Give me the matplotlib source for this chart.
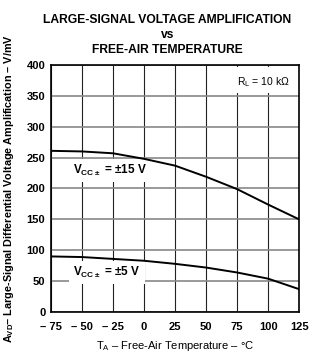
import numpy as np
import matplotlib
matplotlib.use("Agg")
import matplotlib.pyplot as plt
from matplotlib.patches import Rectangle

plt.rcParams['font.family'] = ['Liberation Sans', 'DejaVu Sans']
plt.rcParams['mathtext.fontset'] = 'custom'
plt.rcParams['mathtext.rm'] = 'Liberation Sans'
plt.rcParams['mathtext.bf'] = 'Liberation Sans:bold'

# Данные
temp = [-75, -50, -25, 0, 25, 50, 75, 100, 125]
avd_15v = [261, 260, 257, 248, 237, 219, 199, 174, 150]
avd_5v = [90, 89, 86, 83, 78, 72, 64, 54, 37]

xticks = [-75, -50, -25, 0, 25, 50, 75, 100, 125]
xtick_labels = ['– 75', '– 50', '– 25', '0', '25', '50', '75', '100', '125']
yticks = [0, 50, 100, 150, 200, 250, 300, 350, 400]

fig = plt.figure(figsize=(3.35, 3.57), dpi=100)
ax = fig.add_axes([0.152, 0.126, 0.741, 0.692])

ax.set_axisbelow(True)
ax.set_xlim(-75, 125)
ax.set_ylim(0, 400)
ax.set_xticks(xticks)
ax.set_xticklabels(xtick_labels, fontweight='bold', fontsize=8)
ax.set_yticks(yticks)
ax.set_yticklabels([str(v) for v in yticks], fontweight='bold', fontsize=8)
ax.tick_params(axis='x', length=0, pad=7)
ax.tick_params(axis='y', length=0, pad=4)
ax.xaxis.grid(True, color='#222222', lw=0.8)
ax.yaxis.grid(True, color='#888888', lw=1.2)
for s in ax.spines.values():
    s.set_linewidth(1.2)

# белая подложка под R_L
ax.add_patch(Rectangle((52, 354), 72.5, 42, facecolor='white', edgecolor='none', zorder=1))

box = dict(facecolor='white', edgecolor='none', pad=3)
ax.text(-57, 229, r'V$_\mathregular{CC\pm}$ = ±15 V', fontsize=8.5, fontweight='bold',
        va='center', ha='left', bbox=box, zorder=3)
ax.text(-57, 64, r'V$_\mathregular{CC\pm}$ = ±5 V', fontsize=8.5, fontweight='bold',
        va='center', ha='left', bbox=box, zorder=3)
ax.text(75, 372, r'R$_\mathregular{L}$ = 10 kΩ', fontsize=7.5,
        va='center', ha='left', zorder=3)

ax.plot(temp, avd_15v, color='black', lw=1.4, zorder=4)
ax.plot(temp, avd_5v, color='black', lw=1.4, zorder=4)

ax.set_xlabel(r'T$_\mathregular{A}$ – Free-Air Temperature – °C', fontsize=8, labelpad=5)
ax.set_ylabel(r'A$_\mathregular{VD}$– Large-Signal Differential Voltage Amplification – V/mV',
              fontsize=7.8, fontweight='bold', labelpad=8)

fig.text(0.5, 0.902, 'LARGE-SIGNAL VOLTAGE AMPLIFICATION\nvs\nFREE-AIR TEMPERATURE',
         ha='center', va='center', fontsize=8.7, fontweight='bold', linespacing=1.28)

fig.savefig('out.png', dpi=100)
